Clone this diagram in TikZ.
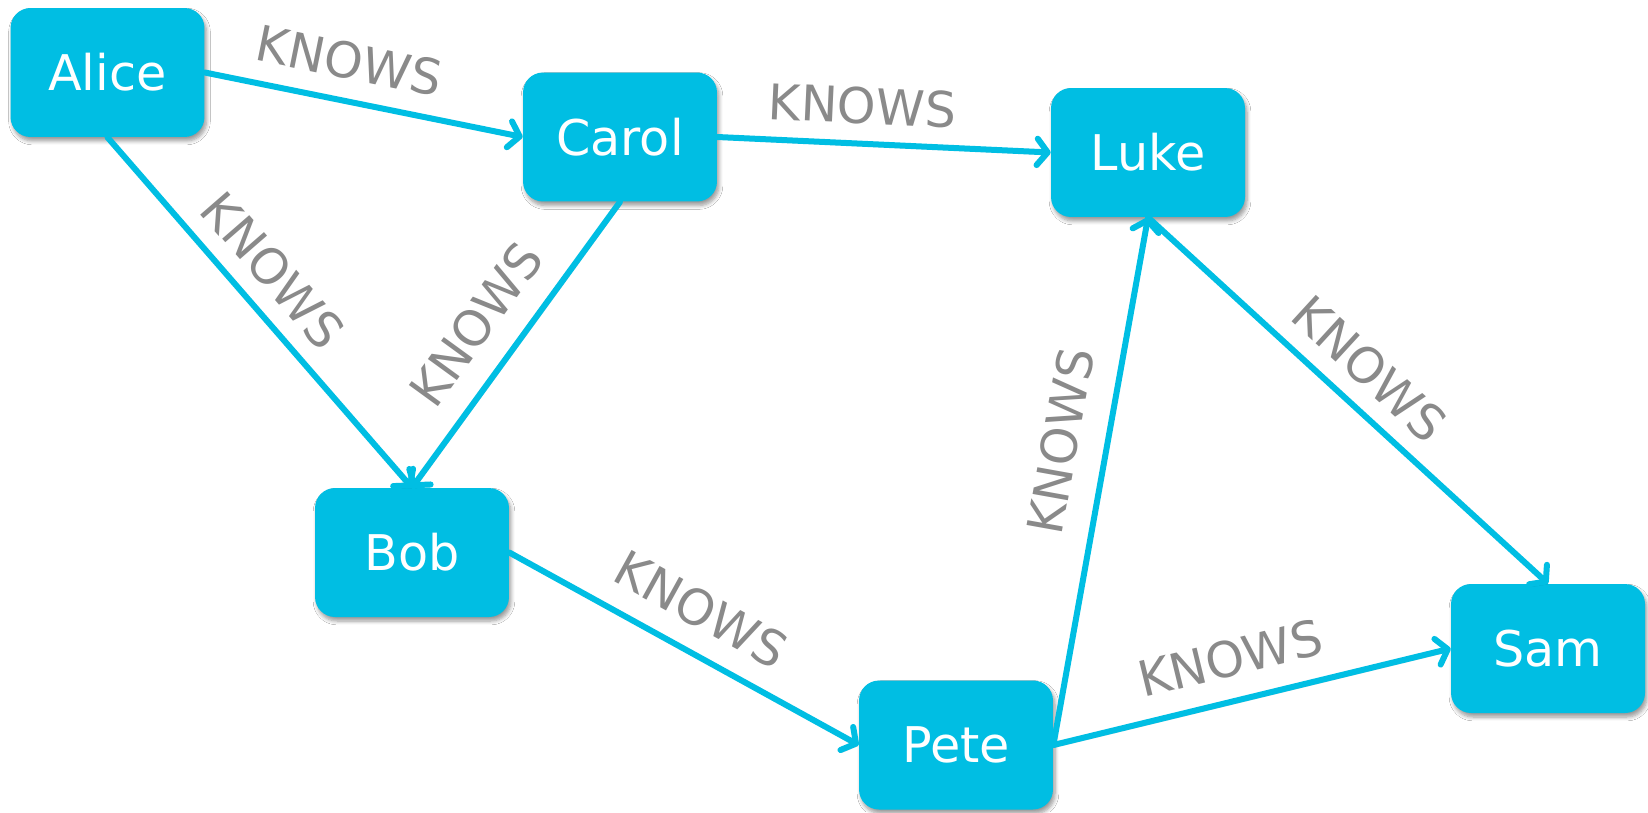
\documentclass[tikz,border=0pt]{standalone}
\usepackage{fontspec}
\setmainfont{DejaVu Sans}
\usetikzlibrary{arrows.meta,shadows.blur}
\definecolor{nodecyan}{RGB}{0,190,227}
\definecolor{lblgray}{RGB}{138,138,138}
\begin{document}
\begin{tikzpicture}[x=0.02cm,y=0.02cm,
  person/.style={fill=nodecyan, rounded corners=0.4cm,
    minimum width=3.88cm, minimum height=2.58cm, inner sep=0pt,
    text=white, font=\fontsize{28}{33}\selectfont,
    blur shadow={shadow xshift=0.04cm, shadow yshift=-0.08cm,
      shadow blur steps=6, shadow opacity=40}},
  rel/.style={draw=nodecyan, line width=0.12cm, line cap=round,
    -{Straight Barb[length=6pt,width=15pt,round]},
    preaction={draw=black, draw opacity=0.12,
      transform canvas={shift={(0.03cm,-0.05cm)}}}},
  lbl/.style={text=lblgray, font=\fontsize{28}{33}\selectfont,
    inner sep=0pt, sloped}]
  \path[fill=white] (0,0) rectangle (1648,-812);
  \useasboundingbox (0,0) rectangle (1648,-812);

  % people
  \node[person] (alice) at (107.5,-72.5) {Alice};
  \node[person] (carol) at (620,-137) {Carol};
  \node[person] (luke)  at (1148,-152.5) {Luke};
  \node[person] (bob)   at (412,-552.5) {Bob};
  \node[person] (pete)  at (956,-745) {Pete};
  \node[person] (sam)   at (1548,-648.5) {Sam};

  % relationships
  \draw[rel] (alice.east) -- node[lbl, pos=0.43, above=0.37cm] {KNOWS} (carol.west);
  \draw[rel] (alice.south) -- node[lbl, pos=0.45, above=0.32cm] {KNOWS} (bob.north);
  \draw[rel] (carol.south) -- node[lbl, pos=0.52, above=0.46cm] {KNOWS} (bob.north);
  \draw[rel] (carol.east) -- node[lbl, pos=0.43, above=0.33cm] {KNOWS} (luke.west);
  \draw[rel] (bob.east) -- node[lbl, pos=0.49, above=0.42cm] {KNOWS} (pete.west);
  \draw[rel] (pete.east) -- node[lbl, pos=0.56, above=0.50cm] {KNOWS} (luke.south);
  \draw[rel] (luke.south) -- node[lbl, pos=0.49, above=0.33cm] {KNOWS} (sam.north);
  \draw[rel] (pete.east) -- node[lbl, pos=0.47, above=0.42cm] {KNOWS} (sam.west);
\end{tikzpicture}
\end{document}
